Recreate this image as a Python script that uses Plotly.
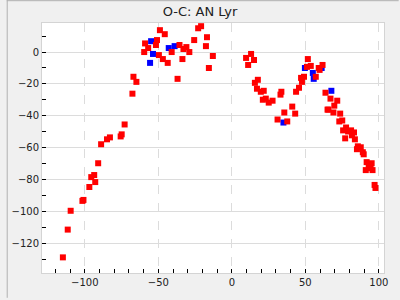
import plotly.graph_objects as go

# Red observations
red_x = [-59.0, -59.6, -56.9, -51.6, -50.9, -49.6, -48.9, -45.6, -46.9, -43.6,
         -40.9, -36.9, -35.6, -33.6, -32.9, -30.9, -28.9, -25.6, -22.9, -20.9,
         -16.9, -17.6, -12.9, -15.6, -66.9, -64.9, -67.6, -72.9, -74.9, -75.6,
         -82.9, -84.9, -88.9, -90.9, -93.6, -95.6, -92.9, -96.9, -100.9, -101.6,
         -109.6, -111.6, -114.9,
         9.7, 13.1, 15.1, 11.1, 15.7, 17.7, 17.1, 19.7, 21.7, 21.1,
         23.1, 25.1, 27.7, 33.1, 33.7, 35.7, 41.1, 43.1, 31.1, 37.7,
         43.7, 45.7, 47.1, 49.1, 47.7, 51.7, 51.1, 53.7, 57.1, 59.1,
         59.7, 61.7, 63.7, 67.1, 71.7, 69.7, 65.1, 65.7, 69.1, 73.7,
         73.1, 75.1, 75.7, 77.7, 79.1, 81.1, 83.1, 81.7, 77.1, 83.7,
         85.7, 87.7, 85.1, 89.1, 89.7, 91.7, 93.7, 95.1, 93.1, 91.1,
         95.7, 94.4, 97.1, 97.7]
red_y = [5.4, 0.0, 2.5, 4.4, 7.5, -1.9, 13.7, 11.2, -4.4, -6.8,
         0.0, -16.8, 4.4, -4.4, 1.9, 3.1, 0.0, 7.5, 14.9, 16.2,
         9.3, 3.7, -2.5, -10.0, -15.5, -18.7, -26.1, -45.4, -51.6, -52.9,
         -53.5, -54.7, -57.8, -69.7, -77.1, -78.4, -81.5, -84.6, -92.7, -93.3,
         -99.5, -111.3, -128.7,
         -3.7, -1.2, -5.0, -8.1, -19.3, -17.4, -23.0, -24.9, -24.3, -29.9,
         -29.2, -31.7, -30.5, -26.7, -24.9, -37.9, -34.2, -38.6, -42.3, -43.5,
         -24.9, -22.4, -16.2, -15.5, -18.7, -4.4, -9.3, -8.7, -15.5, -10.0,
         -11.2, -8.1, -25.5, -29.2, -30.5, -33.6, -36.1, -36.1, -37.9, -38.6,
         -43.5, -42.9, -49.1, -47.3, -49.8, -49.1, -50.4, -52.2, -54.1, -54.7,
         -59.1, -59.7, -60.9, -62.8, -64.1, -69.0, -70.3, -69.7, -72.1, -74.0,
         -74.0, -72.8, -83.3, -85.2]

# Blue observations
blue_x = [-54.9, -53.6, -55.6, -42.9, -38.9, 35.1, 49.7, 55.1, 55.7, 61.1, 67.7]
blue_y = [6.8, -1.2, -6.8, 2.5, 3.7, -44.2, -10.0, -13.1, -16.8, -10.0, -24.3]

x_ticks = [-100, -50, 0, 50, 100]
y_ticks = [-120, -100, -80, -60, -40, -20, 0]

fig = go.Figure()
fig.add_trace(go.Scatter(x=blue_x, y=blue_y, mode="markers",
                         marker=dict(symbol="square", size=6, color="#0000ff",
                                     line=dict(width=0)),
                         showlegend=False, hoverinfo="skip"))
fig.add_trace(go.Scatter(x=red_x, y=red_y, mode="markers",
                         marker=dict(symbol="square", size=6, color="#ff0000",
                                     line=dict(width=0)),
                         showlegend=False, hoverinfo="skip"))

axis_common = dict(
    showline=True, linecolor="#d4d4d4", linewidth=1, mirror=True,
    ticks="inside", ticklen=4, tickcolor="#000000", tickwidth=1,
    gridcolor="#dcdcdc", gridwidth=1, zeroline=False,
    tickfont=dict(family="DejaVu Sans", size=10, color="#222222"),
)

fig.update_layout(
    width=400, height=300,
    margin=dict(l=36, r=15, t=23, b=25),
    paper_bgcolor="#f0f0f0", plot_bgcolor="#ffffff",
    title=dict(text="O-C: AN Lyr", x=0.5, xanchor="center", y=1 - 11 / 300,
               yanchor="middle",
               font=dict(family="DejaVu Sans", size=13, color="#222222")),
    xaxis=dict(range=[-129.1, 103.5], tickvals=x_ticks, griddash="dash",
               minor=dict(dtick=10, tick0=0, ticks="inside", ticklen=4,
                          tickcolor="#000000", showgrid=False),
               **axis_common),
    yaxis=dict(range=[-138.5, 18.2], tickvals=y_ticks,
               minor=dict(dtick=10, tick0=0, ticks="inside", ticklen=4,
                          tickcolor="#000000", showgrid=False),
               **axis_common),
    shapes=[
        dict(type="line", xref="paper", yref="paper",
             x0=-35.5 / 349, x1=-35.5 / 349, y0=-25 / 252, y1=1 + 23 / 252,
             line=dict(color="#b0b0b0", width=1)),
        dict(type="line", xref="paper", yref="paper",
             x0=-36 / 349, x1=1 + 15 / 349, y0=1 + 22.5 / 252, y1=1 + 22.5 / 252,
             line=dict(color="#b0b0b0", width=1)),
    ],
)

fig.write_html("out.html")
